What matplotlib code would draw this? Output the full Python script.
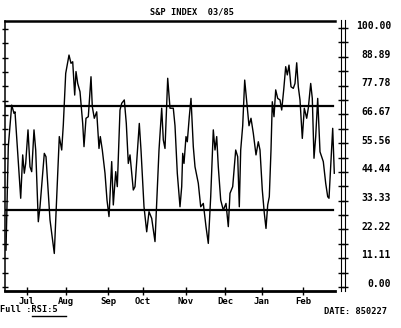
import numpy as np
import matplotlib
matplotlib.use("Agg")
import matplotlib.pyplot as plt
from matplotlib import transforms
from matplotlib.lines import Line2D

# RSI(5) readings, x in chart day units
day = [6, 8.3, 11.7, 14, 15, 20.7, 22.7, 24.3, 25.7, 28, 30, 31.7, 34, 35.7, 38.3, 40,
       44.3, 46, 50, 54.3, 56.7, 59.3, 61.7, 63.3, 65.7, 69, 71, 72.7, 74.7, 76, 77.7,
       80, 82.7, 84, 86, 88.3, 91, 92.3, 94.3, 96.7, 99, 100.3, 102.3, 105, 107, 109,
       111.7, 113.3, 115.7, 117.3, 120, 121.7, 124.3, 126.3, 128.3, 130, 133.3, 135,
       139.3, 141, 144, 146.7, 149, 151.7, 155, 159, 161.7, 163.3, 165, 167.7, 170,
       173.3, 175, 177.3, 180, 181.7, 182.7, 184, 186, 187.3, 189.3, 191, 193.3, 195,
       198.3, 200.7, 203.3, 206, 208.3, 210.7, 213.3, 215, 216.7, 218.3, 220.7, 223.3,
       226, 228.3, 230, 232.7, 235.7, 237.7, 239.3, 240.7, 242.7, 244.7, 246.7, 249,
       251, 253.3, 256, 258.3, 260, 262.3, 264.3, 266, 267.7, 269.3, 271, 272.3, 274,
       275.7, 277.7, 280, 281.7, 283.7, 285.7, 287.3, 289, 291, 293.3, 295, 296.7,
       298.3, 300, 302.3, 304.3, 306.7, 308.3, 310.7, 312.3, 314, 315.7, 317.7, 320,
       321.7, 323.3, 325.7, 327.7, 329, 331, 332.7, 334.3]
rsi = [14.3, 54.4, 70.5, 67.3, 67.9, 34.4, 51.2, 44.1, 47.9, 60.9, 46.6, 44.7, 60.9, 53.1,
       25.3, 31.1, 51.8, 50.5, 26.0, 13.0, 35.0, 58.3, 53.1, 62.8, 82.8, 89.9, 86.7,
       87.3, 74.4, 83.5, 78.9, 75.7, 63.4, 54.4, 65.4, 66.0, 81.5, 69.9, 65.4, 67.9,
       53.7, 58.3, 53.1, 44.1, 33.7, 27.3, 48.6, 31.8, 44.7, 38.9, 68.6, 71.2, 72.5,
       63.4, 47.9, 51.2, 37.6, 38.9, 63.4, 53.1, 31.1, 21.4, 29.2, 26.6, 17.6, 53.1,
       69.3, 57.0, 53.7, 80.9, 69.3, 69.3, 62.5, 44.1, 31.1, 38.9, 51.8, 47.9, 58.3,
       56.3, 66.0, 73.1, 54.4, 46.6, 40.2, 31.1, 32.4, 23.4, 16.9, 35.0, 60.9, 53.1,
       58.3, 46.6, 33.7, 29.8, 32.4, 23.4, 36.3, 38.9, 53.1, 50.5, 31.1, 53.1, 62.5,
       80.2, 71.8, 62.5, 65.4, 59.6, 51.2, 56.3, 53.1, 37.6, 28.6, 22.7, 31.8, 35.0,
       53.1, 71.8, 66.0, 76.4, 73.1, 72.5, 68.6, 76.4, 85.4, 82.2, 86.0, 77.6, 77.0,
       78.9, 86.9, 77.6, 72.5, 57.6, 69.3, 65.4, 69.3, 78.9, 73.1, 49.9, 58.3, 73.1,
       52.4, 50.5, 48.6, 40.2, 35.0, 34.4, 49.2, 61.5, 44.1]

months = ["Jul", "Aug", "Sep", "Oct", "Nov", "Dec", "Jan", "Feb"]
month_pos = [27, 66, 108, 143, 186, 225, 262, 303]
levels = [70, 30]
scale_vals = np.arange(10) * 100 / 9

mono = dict(family="DejaVu Sans Mono", weight="bold")

fig = plt.figure(figsize=(4.02, 3.28), dpi=100)
ax = fig.add_axes([5/402, 37/328, 330/402, 270/328])
ax.set_xlim(5, 335)
ax.set_ylim(-1.55, 103.1)

ax.plot(day, rsi, color="black", lw=1.0)
for lv in levels:
    ax.axhline(lv, color="black", lw=1.6, xmax=0.994)

ax.spines["right"].set_visible(False)
ax.spines["top"].set_linewidth(1.8)
ax.spines["bottom"].set_linewidth(2)
ax.spines["left"].set_linewidth(1.1)

ax.set_yticks(np.arange(19) * 100 / 18)
ax.set_yticklabels([])
ax.tick_params(axis="y", direction="inout", length=4, width=1)
ax.set_xticks(month_pos)
ax.set_xticklabels(months, fontsize=6.5, **mono)
ax.tick_params(axis="x", direction="inout", length=6, width=1, pad=1)

# separate value scale on the right
ax2 = fig.add_axes([341/402, 37/328, 4/402, 271/328])
ax2.set_ylim(-1.55, 103.1)
ax2.set_xticks([])
for s in ["top", "bottom"]:
    ax2.spines[s].set_visible(False)
ax2.set_yticks(np.arange(19) * 100 / 18)
ax2.set_yticklabels([])
ax2.tick_params(axis="y", left=True, right=True, direction="inout", length=4, width=1)

lab_tr = transforms.offset_copy(
    transforms.blended_transform_factory(fig.transFigure, ax.transData),
    fig=fig, x=0, y=3, units="dots")
for v in scale_vals:
    fig.text(391/402, v, "%.2f" % v, transform=lab_tr, ha="right", va="center",
             fontsize=7, **mono)

fig.text(192/402, 1 - 12/328, "S&P INDEX  03/85", ha="center", va="center",
         fontsize=6.2, **mono)
t = fig.text(0, 1 - 310/328, "Full :RSI:5", ha="left", va="center", fontsize=6.2, **mono)
fig.text(356/402, 1 - 312/328, "DATE: 850227", ha="center", va="center",
         fontsize=6.2, **mono)

r = fig.canvas.get_renderer()
bb = t.get_window_extent(r)
cw = bb.width / 11
fig.add_artist(Line2D([bb.x0 + 6 * cw, bb.x1 + 8], [bb.y0 - 1, bb.y0 - 1],
                      transform=transforms.IdentityTransform(), color="black", lw=1))

fig.savefig("out.png", dpi=100, facecolor="white")
